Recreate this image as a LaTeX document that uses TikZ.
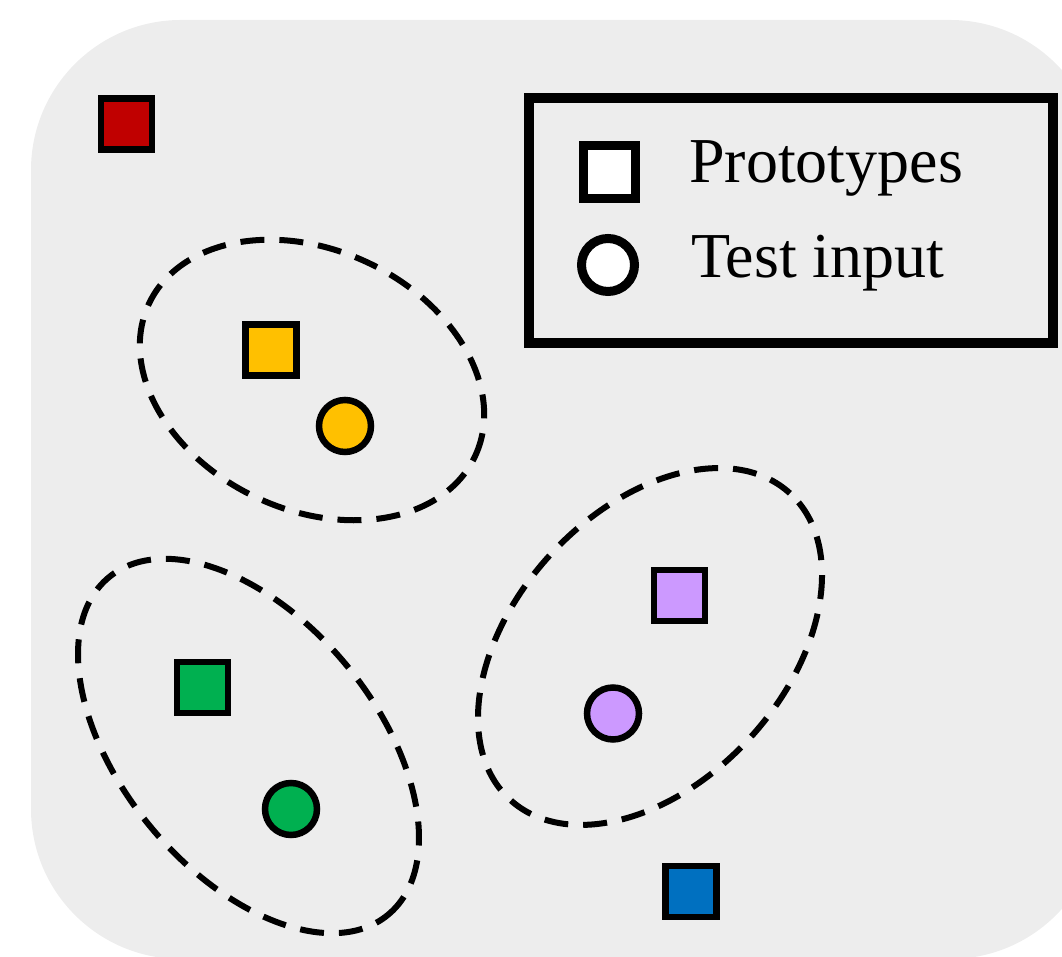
\documentclass[tikz,border=0pt]{standalone}
\usepackage{fontspec}
\setmainfont{Liberation Serif}
\usetikzlibrary{shapes.geometric}
\definecolor{bgc}{HTML}{EDEDED}
\definecolor{cred}{HTML}{C00000}
\definecolor{cyel}{HTML}{FFC000}
\definecolor{cgrn}{HTML}{00B050}
\definecolor{cpur}{HTML}{CC99FF}
\definecolor{cblu}{HTML}{0070C0}
\begin{document}
\begin{tikzpicture}[x=1pt,y=1pt,
  proto/.style={rectangle, draw=black, line width=6.5pt, minimum size=51pt, inner sep=0pt},
  testin/.style={circle, draw=black, line width=6.5pt, minimum size=52pt, inner sep=0pt},
  cluster/.style={ellipse, draw=black, line width=6pt, dash pattern=on 24pt off 15pt, inner sep=0pt},
  legsq/.style={rectangle, draw=black, fill=white, line width=9pt, minimum size=52.5pt, inner sep=0pt},
  legci/.style={circle, draw=black, fill=white, line width=9pt, minimum size=53pt, inner sep=0pt},
  legtext/.style={anchor=base west, inner sep=0pt, font=\fontsize{64}{70}\selectfont}]
\useasboundingbox (0,0) rectangle (1062,957);
\clip (0,0) rectangle (1062,957);
\fill[bgc, rounded corners=150pt] (31,-2) rectangle (1100,937);

% clusters
\node[cluster, minimum width=360pt, minimum height=260pt, rotate=-25] (ellY) at (312,577) {};
\node[cluster, minimum width=438pt, minimum height=254pt, rotate=-50.4] (ellG) at (248.5,211) {};
\node[cluster, minimum width=415pt, minimum height=271pt, rotate=47.6] (ellP) at (650,310.5) {};

% prototypes and test inputs
\node[proto, fill=cred] (pR) at (126.5,833) {};
\node[proto, fill=cyel] (pY) at (271,607) {};
\node[testin, fill=cyel] (tY) at (345,531) {};
\node[proto, fill=cgrn] (pG) at (202.5,269.5) {};
\node[testin, fill=cgrn] (tG) at (291,148) {};
\node[proto, fill=cpur] (pP) at (679.5,361.5) {};
\node[testin, fill=cpur] (tP) at (613,243.5) {};
\node[proto, fill=cblu] (pB) at (691,65.5) {};

% legend
\node[draw=black, line width=10pt, minimum width=524pt, minimum height=245pt, inner sep=0pt] (legend) at (790.5,736.5) {};
\node[legsq] (lsq) at (609.5,785) {};
\node[legci] (lci) at (608,692) {};
\node[legtext] (lt1) at (689,774) {Prototypes};
\node[legtext] (lt2) at (691,679) {Test input};
\end{tikzpicture}
\end{document}
